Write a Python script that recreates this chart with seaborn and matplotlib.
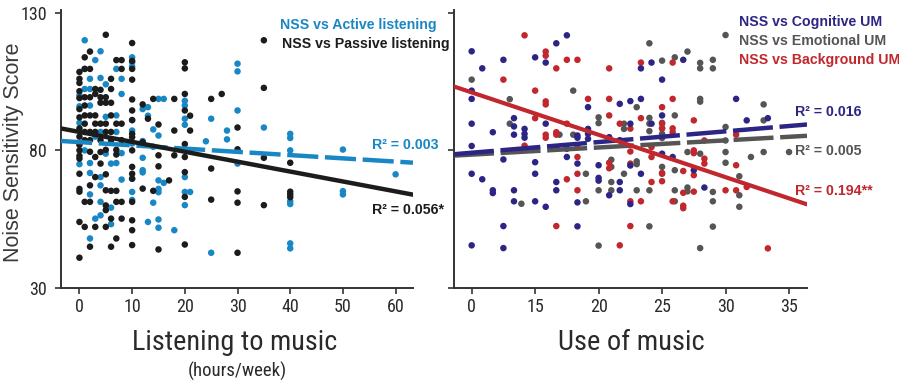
import numpy as np
import pandas as pd
import matplotlib
matplotlib.use("Agg")
import matplotlib.pyplot as plt
import seaborn as sns
from matplotlib import font_manager as fm

# ---------------- data ----------------
# Left panel: hours/week of listening -> Noise Sensitivity Score
active_listening = {
    0: [100, 96, 90, 75], 1: [120, 109.6, 102.3, 80],
    2: [106, 102.3, 96.3, 75.4, 71.8, 64, 48], 3: [112.8, 85, 55.2],
    4: [116, 106.3, 86.7, 70.3, 67.3, 61.3, 56.4], 5: [104, 92.2, 78.8],
    6: [75.2, 59.2, 53.2], 7: [109.6, 92.7, 86.7, 75.4], 8: [106, 100.5, 79, 69.4],
    10: [113.8, 112, 110.5, 91, 87.2, 82.5, 69.7, 64.9, 62],
    12: [95, 83.4, 77.3, 72.8, 72], 13: [95.7, 92.6, 54], 14: [87.6, 81.3, 61],
    15: [98.7, 85.4, 69.1, 66, 64.8, 54.9, 51.9], 16: [98.7, 68.2], 18: [51],
    20: [98, 96.3, 91.5, 89.3, 70.3, 64.9, 60.1], 21: [64.9], 24: [83.3],
    25: [91.5, 42.8], 28: [87.2, 84], 30: [111.5, 108.7, 94.5, 75.2], 35: [88.3],
    40: [86, 84.5, 80, 61.5, 60.5, 46.2, 44.4], 50: [80.3, 65.2, 64], 60: [71.3],
}
passive_listening = {
    0: [108.5, 106, 104.5, 101.5, 99, 95, 92, 88, 85, 82, 80, 78, 77, 71.5, 66, 65, 54, 41],
    1: [113.8, 109.6, 99.3, 96.3, 92.7, 89.7, 86.7, 83.7, 61.3, 52.2],
    2: [115.9, 109.6, 99.3, 92.7, 86.7, 83.7, 79.5, 67.3, 61.3, 45],
    3: [102.3, 100.5, 92.7, 89.7, 86.7, 77.6, 70.3, 52.2],
    4: [102, 99.3, 97.3, 89.7, 83.7, 79.4, 75.2],
    5: [122, 99.3, 97.3, 89.7, 86.7, 80.2, 71.3, 65.5, 60, 58.3, 52.2],
    6: [106, 102.3, 97.3, 92.7, 86.7, 83.7, 65.3, 55.2, 45],
    7: [112.8, 89.7, 80.2, 78.5, 65.3, 61.3, 48],
    8: [112.8, 109.6, 89.7, 83.7, 61.3, 55.2],
    10: [119, 112.5, 109.6, 105.7, 98.5, 94.5, 91, 86, 84.8, 80, 74, 71.5, 69.7, 61.3, 54.6, 51, 45.6],
    12: [96.7, 83, 66.1], 13: [91.5], 14: [98.7, 65.3], 15: [89.4, 78.2, 74.2, 44],
    17: [69.1], 18: [98.7, 87.2, 78.2],
    20: [112, 109.8, 100.5, 94.5, 82.3, 77.6, 72.1, 63.1, 45.8], 21: [92.6, 87.2],
    25: [98.7, 73.4, 62.1], 27: [100.5], 30: [88.3, 80.4, 65.1, 61, 42.8],
    35: [120, 102.7, 77.3, 60.1], 40: [75.5, 65, 64, 63],
}
left_ticks = [0, 10, 20, 30, 40, 50, 60]

# Right panel: use-of-music scores (x in tick-slot units) -> NSS
cognitive_um = {
    0: [116, 101.7, 98.7, 89.7, 81.6, 71.5, 45.5], 1: [109.8, 69.5], 2: [86.6, 65.5, 64.5],
    3: [112.9, 76.7, 52.5, 44.5], 4: [91.7, 88.7, 85.7, 65.5, 61.5], 5: [87.8, 86, 84.6],
    6: [113.8, 75.7, 71.5, 61.5], 7: [111.9, 89.7, 59.5], 8: [118.9, 81, 68.5, 65.5],
    9: [121.8, 80.6, 77.6], 10: [85.4, 84.6, 75.2, 61.1, 52.4], 11: [95.7, 87.8, 86, 84.2],
    12: [74.6, 70, 69], 13: [84.8, 63.7], 14: [96.9, 83.7, 68.5, 65.5],
    15: [97.9, 89.7, 74.5, 60.5], 16: [109.8, 98.7, 71.5], 17: [111.9, 89.7],
    18: [105.7, 92.7, 78.8], 19: [77.6], 20: [112.9], 21: [72.8], 22: [66.5],
    25: [98.7], 26: [90.9], 28: [91.7],
}
emotional_um = {
    0: [105.7], 3.6: [98.6, 89.7], 4.7: [60.6], 8.3: [85.7], 9.6: [101.7, 85.7],
    10.8: [71.5, 61.5], 12: [92, 89.9, 65.5, 45.4], 13.2: [76.6, 74, 68.5, 65.5],
    14.4: [89.7, 87.8, 71.5], 15.6: [95.7, 76, 75, 65.5],
    16.8: [118.9, 91.8, 89.7, 87, 65.5, 52.4], 18: [112.6, 90, 88, 86, 84.5, 74, 71.5],
    19.2: [113.8, 92.7, 72.8, 65.5, 61.5], 20.4: [115.9, 79.4, 66.5, 65.1],
    21.6: [111.8, 109.8, 98.7, 97.7, 78.8, 44.5], 22.8: [112.9, 109.8, 64.9, 61.5, 52.3],
    24: [121.9, 88.5, 83.6, 79.4, 75.5], 25.3: [70.6, 63.7, 59.5], 26.4: [77.6],
    27.6: [96.7, 90.9, 79.4], 30: [79.4],
}
background_um = {
    3: [105.7], 5: [121.8, 81.7], 6: [101.7, 91.7], 7: [115.9, 114.4, 97.8, 96.7, 85.7, 84.6],
    8: [109.8, 86.6, 85.7, 52.5], 9: [112.9, 89.7, 69.5], 10: [112.9, 81.2, 77.6, 71.5, 65.5],
    11: [98.7], 13: [109.8, 98.7, 92.7, 75.5, 73.5], 14: [89.7, 45.5],
    15: [87.9, 79.6, 75.2, 61.5, 52.5], 16: [111.9, 91.7, 61.5], 17: [81.2, 77.6, 68.5],
    18: [95.7, 89.7, 88, 71.8, 68.8], 19: [111.9, 98.7, 88, 86.6, 61.5],
    20: [72.5, 64.6, 59.9, 59], 21: [90.9, 80, 79, 71, 65], 22: [83.6, 77, 75.2],
    24: [65.5], 25: [85.7, 74.6, 65.5], 26: [66.7], 28: [44.4],
}
right_tick_pos = [0, 6, 12, 18, 24, 30]
right_tick_labels = ["0", "15", "20", "25", "30", "35"]

# fitted lines: (intercept, slope)
active_fit = (83.0, -0.118)
passive_fit = (86.7, -0.36)
cognitive_fit = (79.14, 0.3237)
emotional_fit = (78.46, 0.2158)
background_fit = (101.06, -1.283)

r2_labels = {"active": "R² = 0.003", "passive": "R² = 0.056*",
             "cognitive": "R² = 0.016", "emotional": "R² = 0.005",
             "background": "R² = 0.194**"}

# ---------------- style ----------------
BLUE, BLACK = "#1a87c5", "#1c1c1c"
NAVY, GRAY, RED = "#2c2585", "#555555", "#c1272d"
AXC = "#333333"

sns.set_style("ticks")
REG = ["Liberation Sans", "DejaVu Sans"]
plt.rcParams["font.family"] = REG

# choose a condensed face if one is installed
narrow_fp = None
fonts = fm.fontManager.ttflist
for want in ("Liberation Sans Narrow", "Arial Narrow", "Roboto Condensed"):
    if any(f.name == want for f in fonts):
        narrow_fp = fm.FontProperties(family=[want, "DejaVu Sans"])
        break
if narrow_fp is None:
    cond = [f for f in fonts if f.name == "DejaVu Sans" and "condensed" in str(f.stretch)]
    if cond:
        regular = [f for f in cond if f.weight in (400, "normal")]
        narrow_fp = fm.FontProperties(fname=(regular or cond)[0].fname)
if narrow_fp is None:
    narrow_fp = fm.FontProperties(family=REG)


def nfp(size):
    p = narrow_fp.copy()
    p.set_size(size)
    return p


def to_frame(d, label):
    rows = [(x, y) for x, ys in d.items() for y in ys]
    df = pd.DataFrame(rows, columns=["x", "y"])
    df["series"] = label
    return df


W, H = 899, 383
fig = plt.figure(figsize=(W / 100, H / 100), dpi=100)
ax1 = fig.add_axes([61 / W, (H - 288) / H, (413 - 61) / W, (288 - 10) / H])
ax2 = fig.add_axes([454 / W, (H - 288) / H, (807 - 454) / W, (288 - 10) / H])

# left panel points
left_df = pd.concat([to_frame(active_listening, "Active"), to_frame(passive_listening, "Passive")])
sns.scatterplot(data=left_df, x="x", y="y", hue="series",
                palette={"Active": BLUE, "Passive": BLACK},
                s=22, linewidth=0, legend=False, ax=ax1, zorder=2)
xl1 = np.array([-3.5, 63.3])
sns.lineplot(x=xl1, y=active_fit[0] + active_fit[1] * xl1, color=BLUE, lw=3.2,
             linestyle=(0, (7, 1.5)), ax=ax1, zorder=3)
sns.lineplot(x=xl1, y=passive_fit[0] + passive_fit[1] * xl1, color=BLACK, lw=3.2,
             ax=ax1, zorder=4)

# right panel points
right_df = pd.concat([to_frame(emotional_um, "Emotional"), to_frame(background_um, "Background"),
                      to_frame(cognitive_um, "Cognitive")])
sns.scatterplot(data=right_df, x="x", y="y", hue="series",
                palette={"Cognitive": NAVY, "Emotional": GRAY, "Background": RED},
                s=22, linewidth=0, legend=False, ax=ax2, zorder=2)
xl2 = np.array([-1.67, 31.7])
sns.lineplot(x=xl2, y=emotional_fit[0] + emotional_fit[1] * xl2, color=GRAY, lw=3.2,
             linestyle=(0, (9, 1.5)), ax=ax2, zorder=3)
sns.lineplot(x=xl2, y=cognitive_fit[0] + cognitive_fit[1] * xl2, color=NAVY, lw=3.2,
             linestyle=(0, (9, 1.5)), ax=ax2, zorder=4)
sns.lineplot(x=xl2, y=background_fit[0] + background_fit[1] * xl2, color=RED, lw=3.0,
             ax=ax2, zorder=5)

for ax in (ax1, ax2):
    ax.set_ylim(30, 131)
    ax.set_yticks([30, 80, 130])
    for s in ("top", "right"):
        ax.spines[s].set_visible(False)
    for s in ("left", "bottom"):
        ax.spines[s].set_linewidth(1.4)
        ax.spines[s].set_color(AXC)
    ax.tick_params(axis="both", direction="out", length=4, width=1.2, color=AXC,
                   labelcolor="#2a2a2a")
    ax.tick_params(axis="x", pad=3)
    ax.tick_params(axis="y", pad=6)
    ax.set_xlabel("")
    ax.set_ylabel("")

ax1.set_xlim(-3.5, 63.3)
ax1.set_xticks(left_ticks)
ax1.set_xticklabels([str(t) for t in left_ticks])
ax2.set_xlim(-1.67, 31.7)
ax2.set_xticks(right_tick_pos)
ax2.set_xticklabels(right_tick_labels)
ax2.set_yticklabels([])
for ax in (ax1, ax2):
    for lab in ax.get_xticklabels() + ax.get_yticklabels():
        lab.set_fontproperties(nfp(13))

# annotation texts
bold = dict(family=REG, fontweight="bold", fontsize=10.2, va="center", ha="left")
ax1.text(38.0, 125.7, "NSS vs Active listening", color=BLUE, **bold)
ax1.text(38.4, 118.8, "NSS vs Passive listening", color=BLACK, clip_on=False, **bold)
ax1.text(55.6, 81.8, r2_labels["active"], color=BLUE, **bold)
ax1.text(55.6, 58.3, r2_labels["passive"], color=BLACK, **bold)

ax2.text(25.3, 126.7, "NSS vs Cognitive UM", color=NAVY, **bold)
ax2.text(25.3, 119.9, "NSS vs Emotional UM", color=GRAY, **bold)
ax2.text(25.3, 113.0, "NSS vs Background UM", color=RED, clip_on=False, **bold)
ax2.text(30.6, 94.1, r2_labels["cognitive"], color=NAVY, clip_on=False, **bold)
ax2.text(30.6, 79.6, r2_labels["emotional"], color=GRAY, clip_on=False, **bold)
ax2.text(30.6, 65.1, r2_labels["background"], color=RED, clip_on=False, **bold)

# axis titles
fig.text(14 / W, 1 - 152 / H, "Noise Sensitivity Score", rotation=90, family=REG,
         fontsize=15.5, color="#3a3a3a", ha="center", va="center")
fig.text(235 / W, 1 - 343 / H, "Listening to music", fontproperties=nfp(20.3),
         color="#2a2a2a", ha="center", va="center")
fig.text(237 / W, 1 - 371 / H, "(hours/week)", fontproperties=nfp(13.5),
         color="#2a2a2a", ha="center", va="center")
fig.text(631 / W, 1 - 343 / H, "Use of music", fontproperties=nfp(20.5),
         color="#2a2a2a", ha="center", va="center")

fig.savefig("out.png", dpi=100)
